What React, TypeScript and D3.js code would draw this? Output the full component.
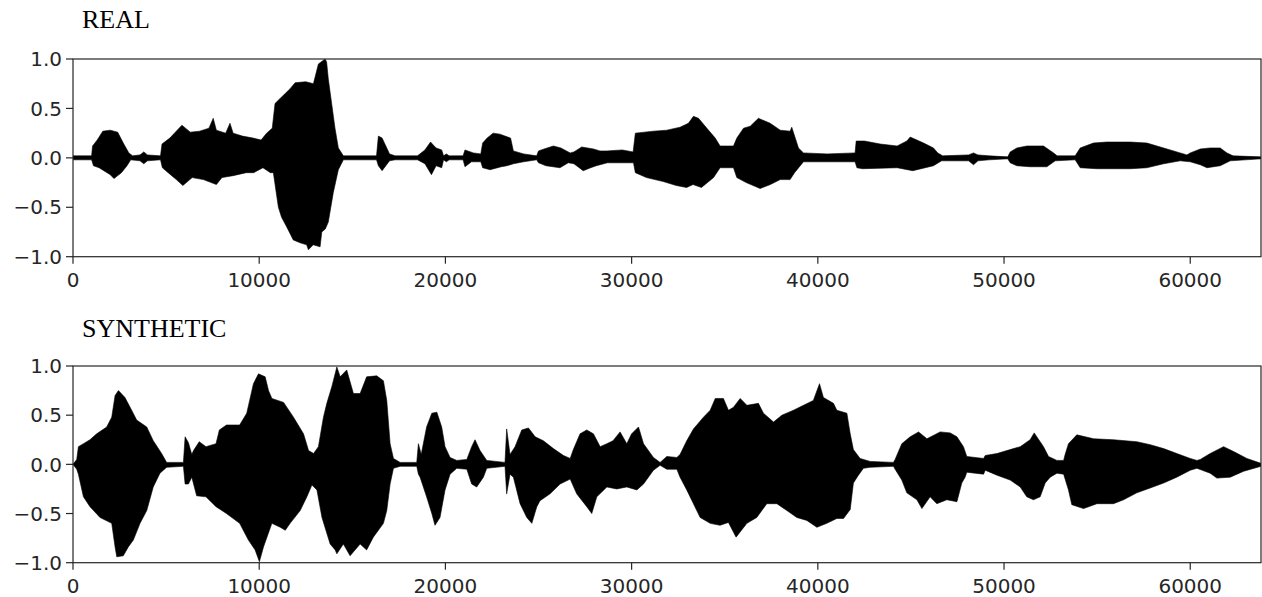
import * as d3 from "d3";

// axis ticks
const xTicks = [0, 10000, 20000, 30000, 40000, 50000, 60000];
const yTicks = [-1, -0.5, 0, 0.5, 1];
const sampleMax = 63800;

// waveform envelopes: [sample, amplitude]
const realUpper: [number, number][] = [
  [0, 0.02], [1000, 0.02], [1050, 0.12], [1300, 0.18], [1600, 0.27], [2000, 0.28], [2400, 0.26], [2700, 0.15],
  [3000, 0.05], [3200, 0.02], [3600, 0.03], [3800, 0.06], [4000, 0.03], [4700, 0.02], [4780, 0.14], [5200, 0.2],
  [5850, 0.33], [6300, 0.26], [6800, 0.27], [7300, 0.3], [7530, 0.4], [7700, 0.28], [8200, 0.25], [8430, 0.35],
  [8600, 0.25], [9100, 0.22], [9670, 0.2], [10100, 0.18], [10400, 0.25], [10700, 0.3], [10850, 0.55], [11120, 0.6],
  [11660, 0.7], [11930, 0.76], [12500, 0.77], [12910, 0.75], [13180, 0.95], [13540, 1.0], [13620, 0.97], [13710, 0.8],
  [13890, 0.55], [14070, 0.3], [14250, 0.1], [14520, 0.02], [16300, 0.02], [16400, 0.22], [16600, 0.2], [16800, 0.12],
  [17000, 0.04], [17300, 0.02], [18500, 0.02], [18900, 0.08], [19200, 0.16], [19500, 0.1], [19800, 0.08], [19900, 0.02],
  [20050, 0.04], [20200, 0.02], [20950, 0.02], [21050, 0.08], [21500, 0.05], [21900, 0.04], [22000, 0.15], [22240, 0.2],
  [22560, 0.25], [22930, 0.24], [23200, 0.22], [23500, 0.2], [23650, 0.07], [24200, 0.04], [24900, 0.02], [25000, 0.07],
  [25300, 0.09], [25800, 0.12], [26200, 0.1], [26700, 0.05], [26900, 0.06], [27320, 0.11], [27950, 0.09], [28300, 0.07],
  [28670, 0.07], [29500, 0.08], [30080, 0.06], [30200, 0.25], [31170, 0.27], [31890, 0.28], [32600, 0.31], [33050, 0.35],
  [33320, 0.42], [33590, 0.4], [34040, 0.3], [34490, 0.2], [34750, 0.12], [35470, 0.12], [35650, 0.2], [36010, 0.3],
  [36370, 0.32], [36810, 0.4], [37440, 0.35], [37980, 0.28], [38510, 0.27], [38600, 0.31], [38960, 0.1], [39230, 0.05],
  [40500, 0.04], [42000, 0.05], [42060, 0.17], [42500, 0.17], [43350, 0.14], [44260, 0.12], [44780, 0.17], [44960, 0.21],
  [45680, 0.15], [46210, 0.1], [46440, 0.05], [46700, 0.02], [48100, 0.03], [48360, 0.05], [48600, 0.03], [49200, 0.02],
  [50200, 0.01], [50330, 0.06], [50690, 0.1], [51230, 0.12], [52120, 0.12], [52660, 0.05], [52850, 0.02], [53820, 0.02],
  [54090, 0.1], [54800, 0.15], [55520, 0.16], [56780, 0.16], [57670, 0.15], [58570, 0.1], [59460, 0.05], [59820, 0.03],
  [60000, 0.05], [60540, 0.09], [61070, 0.1], [61610, 0.1], [61970, 0.05], [62300, 0.02], [63800, 0.01],
];

const realLower: [number, number][] = [
  [0, -0.02], [1000, -0.02], [1100, -0.08], [1400, -0.1], [2000, -0.17], [2200, -0.21], [2600, -0.15], [2900, -0.08],
  [3100, -0.02], [3600, -0.03], [3800, -0.06], [4000, -0.03], [4700, -0.02], [4800, -0.1], [5300, -0.18], [5550, -0.22],
  [5900, -0.28], [6400, -0.2], [7000, -0.22], [7700, -0.27], [8000, -0.2], [8600, -0.18], [9300, -0.15], [9700, -0.15],
  [10200, -0.1], [10600, -0.15], [10760, -0.15], [11030, -0.5], [11200, -0.6], [11480, -0.7], [11830, -0.83], [12200, -0.86],
  [12550, -0.88], [12640, -0.93], [12900, -0.88], [13270, -0.9], [13360, -0.75], [13550, -0.72], [13710, -0.65], [13980, -0.35],
  [14250, -0.12], [14520, -0.02], [16300, -0.02], [16400, -0.08], [16600, -0.13], [16800, -0.08], [17000, -0.03], [17300, -0.02],
  [18500, -0.02], [18900, -0.06], [19250, -0.17], [19500, -0.08], [19800, -0.1], [19900, -0.02], [20050, -0.04], [20200, -0.02],
  [20950, -0.02], [21050, -0.09], [21400, -0.04], [21900, -0.04], [22000, -0.1], [22400, -0.12], [23000, -0.09], [23300, -0.08],
  [23650, -0.06], [24200, -0.04], [24900, -0.02], [25000, -0.05], [25400, -0.08], [26150, -0.1], [26600, -0.05], [26900, -0.06],
  [27400, -0.13], [27800, -0.1], [28100, -0.08], [28700, -0.05], [30100, -0.05], [30200, -0.15], [30800, -0.2], [31700, -0.24],
  [32400, -0.28], [32950, -0.3], [33300, -0.27], [33750, -0.3], [34400, -0.2], [34750, -0.1], [35470, -0.1], [35650, -0.2],
  [36150, -0.25], [36900, -0.31], [37450, -0.27], [37980, -0.22], [38510, -0.22], [38750, -0.15], [39230, -0.04], [42000, -0.04],
  [42100, -0.1], [42400, -0.11], [44260, -0.1], [45100, -0.13], [46210, -0.08], [46650, -0.03], [48100, -0.03], [48360, -0.07],
  [48600, -0.03], [49200, -0.02], [50200, -0.01], [50330, -0.05], [50690, -0.08], [51400, -0.09], [52300, -0.09], [52750, -0.03],
  [53820, -0.02], [54090, -0.1], [55000, -0.11], [56780, -0.11], [57670, -0.1], [58570, -0.06], [59460, -0.03], [60000, -0.04],
  [60540, -0.07], [60900, -0.1], [61610, -0.08], [62150, -0.03], [63800, -0.01],
];

const synthUpper: [number, number][] = [
  [0, 0], [200, 0.05], [290, 0.18], [560, 0.21], [910, 0.25], [1270, 0.31], [1810, 0.38], [2080, 0.48],
  [2260, 0.7], [2440, 0.75], [2790, 0.68], [3150, 0.55], [3420, 0.45], [3960, 0.38], [4310, 0.24], [4760, 0.11],
  [5030, 0.02], [5930, 0.02], [6020, 0.28], [6200, 0.22], [6380, 0.1], [6470, 0.14], [6780, 0.23], [7140, 0.18],
  [7680, 0.21], [7860, 0.35], [8240, 0.4], [8950, 0.4], [9330, 0.52], [9690, 0.82], [9960, 0.92], [10320, 0.89],
  [10500, 0.75], [10680, 0.67], [11310, 0.63], [11840, 0.48], [12380, 0.31], [12650, 0.14], [12920, 0.11], [13180, 0.18],
  [13450, 0.48], [13630, 0.62], [13900, 0.79], [14170, 0.99], [14350, 0.89], [14700, 0.96], [15060, 0.72], [15420, 0.72],
  [15770, 0.89], [16310, 0.9], [16670, 0.85], [16850, 0.65], [17030, 0.21], [17210, 0.06], [17570, 0.02], [18460, 0.02],
  [18550, 0.21], [18700, 0.1], [18990, 0.38], [19270, 0.52], [19540, 0.53], [19800, 0.38], [19980, 0.18], [20250, 0.07],
  [20610, 0.04], [21150, 0.05], [21410, 0.18], [21590, 0.25], [21860, 0.14], [22220, 0.04], [23200, 0.02], [23290, 0.36],
  [23470, 0.1], [23740, 0.18], [24100, 0.35], [24460, 0.37], [24820, 0.28], [25260, 0.24], [25800, 0.16], [26340, 0.09],
  [26700, 0.06], [26870, 0.15], [27230, 0.31], [27590, 0.35], [27950, 0.31], [28310, 0.18], [28670, 0.21], [29000, 0.24],
  [29380, 0.33], [29740, 0.21], [30000, 0.31], [30370, 0.38], [30640, 0.21], [31170, 0.07], [31530, 0.02], [31890, 0.08],
  [32430, 0.07], [32600, 0.1], [32960, 0.24], [33320, 0.36], [33860, 0.48], [34220, 0.55], [34490, 0.67], [34930, 0.67],
  [35200, 0.55], [35470, 0.58], [35830, 0.67], [36190, 0.6], [36810, 0.62], [37080, 0.52], [37620, 0.43], [38070, 0.5],
  [38690, 0.55], [39230, 0.6], [39760, 0.65], [40090, 0.82], [40300, 0.68], [40840, 0.62], [41020, 0.55], [41560, 0.52],
  [41740, 0.31], [41910, 0.15], [42270, 0.06], [42810, 0.03], [44060, 0.02], [44150, 0.05], [44510, 0.21], [44960, 0.28],
  [45410, 0.33], [45860, 0.26], [46570, 0.33], [47110, 0.32], [47470, 0.28], [47820, 0.18], [48000, 0.08], [48900, 0.06],
  [48990, 0.09], [49620, 0.11], [50330, 0.15], [50870, 0.18], [51400, 0.25], [51620, 0.32], [51940, 0.23], [52120, 0.18],
  [52390, 0.08], [52840, 0.04], [53200, 0.04], [53280, 0.1], [53460, 0.21], [53910, 0.3], [54810, 0.26], [55880, 0.25],
  [57130, 0.23], [57850, 0.2], [58570, 0.16], [59280, 0.11], [60000, 0.06], [60360, 0.04], [60540, 0.05], [61070, 0.11],
  [61790, 0.18], [62330, 0.13], [63040, 0.06], [63800, 0.01],
];

const synthLower: [number, number][] = [
  [0, 0], [200, -0.05], [290, -0.1], [560, -0.33], [910, -0.43], [1450, -0.54], [2080, -0.6], [2260, -0.84],
  [2350, -0.94], [2700, -0.93], [2970, -0.84], [3240, -0.77], [3600, -0.6], [3960, -0.47], [4310, -0.23], [4670, -0.09],
  [5030, -0.03], [5930, -0.02], [6020, -0.2], [6200, -0.2], [6380, -0.13], [6640, -0.32], [7140, -0.33], [7680, -0.43],
  [8240, -0.5], [8950, -0.6], [9420, -0.77], [9780, -0.87], [10010, -0.99], [10230, -0.84], [10680, -0.6], [11130, -0.64],
  [11400, -0.67], [11660, -0.6], [12200, -0.47], [12560, -0.33], [12830, -0.21], [13100, -0.26], [13370, -0.54], [13810, -0.81],
  [14080, -0.87], [14170, -0.91], [14520, -0.81], [14880, -0.93], [15420, -0.81], [15770, -0.87], [16130, -0.74], [16670, -0.6],
  [16850, -0.47], [17030, -0.2], [17210, -0.04], [17570, -0.02], [18460, -0.02], [18550, -0.1], [18640, -0.13], [18990, -0.33],
  [19270, -0.5], [19440, -0.62], [19710, -0.54], [19980, -0.26], [20250, -0.1], [20610, -0.04], [21150, -0.05], [21410, -0.2],
  [21680, -0.23], [22040, -0.13], [22220, -0.04], [23200, -0.02], [23290, -0.3], [23470, -0.1], [23650, -0.13], [24010, -0.4],
  [24370, -0.54], [24640, -0.6], [24910, -0.43], [25080, -0.37], [25620, -0.3], [26160, -0.2], [26700, -0.15], [27050, -0.3],
  [27590, -0.43], [27860, -0.5], [28130, -0.33], [28670, -0.23], [29200, -0.25], [29740, -0.23], [30280, -0.26], [30640, -0.2],
  [31170, -0.06], [31530, -0.01], [31890, -0.05], [32430, -0.05], [32600, -0.13], [32960, -0.26], [33320, -0.4], [33680, -0.54],
  [34220, -0.6], [34750, -0.62], [35200, -0.59], [35610, -0.74], [36190, -0.6], [36720, -0.54], [37260, -0.4], [37800, -0.4],
  [38340, -0.47], [38870, -0.54], [39410, -0.57], [39950, -0.64], [40480, -0.6], [41020, -0.55], [41380, -0.55], [41740, -0.46],
  [41910, -0.19], [42180, -0.11], [42450, -0.04], [42810, -0.03], [44060, -0.02], [44150, -0.05], [44510, -0.16], [44780, -0.29],
  [45320, -0.36], [45590, -0.45], [46030, -0.33], [46390, -0.4], [46930, -0.36], [47470, -0.38], [47730, -0.19], [47910, -0.13],
  [48000, -0.08], [48900, -0.1], [48990, -0.06], [49620, -0.11], [50330, -0.16], [50870, -0.23], [51220, -0.33], [51580, -0.36],
  [51940, -0.33], [52210, -0.19], [52480, -0.13], [52840, -0.09], [53200, -0.1], [53460, -0.26], [53640, -0.41], [54270, -0.45],
  [54990, -0.4], [55880, -0.4], [56420, -0.36], [57130, -0.29], [57850, -0.24], [58570, -0.19], [59280, -0.13], [60000, -0.06],
  [60360, -0.04], [61070, -0.09], [61430, -0.14], [62150, -0.13], [62870, -0.07], [63800, -0.02],
];

const panels = [
  { title: "REAL", upper: realUpper, lower: realLower, top: 59, bottom: 256.7, titleY: 28 },
  { title: "SYNTHETIC", upper: synthUpper, lower: synthLower, top: 366, bottom: 562.7, titleY: 336.5 },
];

const W = 1262;
const H = 597;
const left = 73;
const right = 1261;
const axisColor = "#262626";
const tickFont = "'DejaVu Sans', sans-serif";

const fmtY = (v: number) => (v < 0 ? "\u2212" : "") + Math.abs(v).toFixed(1);

const x = d3.scaleLinear().domain([0, sampleMax]).range([left, right]);

function Panel({ p, idx }: { p: (typeof panels)[number]; idx: number }) {
  const y = d3.scaleLinear().domain([-1, 1]).range([p.bottom, p.top]);
  const line = d3
    .line<[number, number]>()
    .x((d) => x(d[0]))
    .y((d) => y(d[1]));
  const outline = [...p.upper, ...p.lower.slice().reverse()];
  const clipId = `clip-${idx}`;
  return (
    <g>
      <text x={82} y={p.titleY} fontFamily="'Liberation Serif', 'Times New Roman', serif" fontSize={26} fill="#000">
        {p.title}
      </text>
      <defs>
        <clipPath id={clipId}>
          <rect x={left} y={p.top} width={right - left} height={p.bottom - p.top} />
        </clipPath>
      </defs>
      <g clipPath={`url(#${clipId})`}>
        <path d={line(outline) + "Z"} fill="#000" stroke="#000" strokeWidth={0.6} strokeLinejoin="round" />
        <line x1={left} x2={right} y1={y(0)} y2={y(0)} stroke="#000" strokeWidth={1.5} />
      </g>
      <rect
        x={left}
        y={p.top}
        width={right - left}
        height={p.bottom - p.top}
        fill="none"
        stroke={axisColor}
        strokeWidth={1.2}
      />
      {yTicks.map((t) => (
        <g key={"y" + t}>
          <line x1={left - 7} x2={left} y1={y(t)} y2={y(t)} stroke={axisColor} strokeWidth={1.2} />
          <text
            x={left - 11}
            y={y(t)}
            dy="0.36em"
            textAnchor="end"
            fontFamily={tickFont}
            fontSize={20}
            fill={axisColor}
          >
            {fmtY(t)}
          </text>
        </g>
      ))}
      {xTicks.map((t) => (
        <g key={"x" + t}>
          <line x1={x(t)} x2={x(t)} y1={p.bottom} y2={p.bottom + 7} stroke={axisColor} strokeWidth={1.2} />
          <text
            x={x(t)}
            y={p.bottom + 30}
            textAnchor="middle"
            fontFamily={tickFont}
            fontSize={20}
            fill={axisColor}
          >
            {t}
          </text>
        </g>
      ))}
    </g>
  );
}

export default function App() {
  return (
    <svg
      width={W}
      height={H}
      style={{ position: "absolute", left: 0, top: 0, background: "#fff" }}
    >
      {panels.map((p, i) => (
        <Panel key={p.title} p={p} idx={i} />
      ))}
    </svg>
  );
}
